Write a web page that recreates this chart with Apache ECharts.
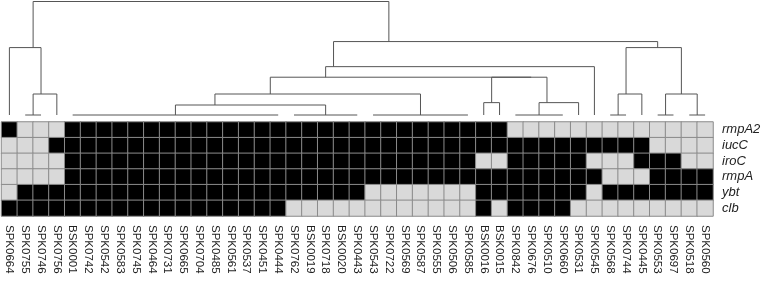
<!DOCTYPE html>
<html>
<head>
<meta charset="utf-8">
<script src="https://cdn.jsdelivr.net/npm/echarts@6/dist/echarts.min.js"></script>
<style>
  html, body { margin: 0; padding: 0; background: #fff; }
  #chart { width: 764px; height: 291px; }
</style>
</head>
<body>
<div id="chart"></div>
<script>
// 样本（列）顺序，与树状图叶子顺序一致
const samples = [
  'SPK0664', 'SPK0755', 'SPK0746', 'SPK0756', 'BSK0001', 'SPK0742', 'SPK0542', 'SPK0583', 'SPK0745',
  'SPK0464', 'SPK0731', 'SPK0665', 'SPK0704', 'SPK0485', 'SPK0561', 'SPK0537', 'SPK0451', 'SPK0444',
  'SPK0762', 'BSK0019', 'SPK0718', 'BSK0020', 'SPK0443', 'SPK0543', 'SPK0722', 'SPK0569', 'SPK0587',
  'SPK0555', 'SPK0506', 'SPK0585', 'BSK0016', 'BSK0015', 'SPK0842', 'SPK0676', 'SPK0510', 'SPK0660',
  'SPK0531', 'SPK0545', 'SPK0568', 'SPK0744', 'SPK0445', 'SPK0553', 'SPK0697', 'SPK0518', 'SPK0560'
];

const genes = ['rmpA2', 'iucC', 'iroC', 'rmpA', 'ybt', 'clb'];

// 1 = 存在(黑), 0 = 缺失(灰)
const rmpA2 = [1,0,0,0,1,1,1,1,1,1,1,1,1,1,1, 1,1,1,1,1,1,1,1,1,1,1,1,1,1,1, 1,1,0,0,0,0,0,0,0,0,0,0,0,0,0];
const iucC  = [0,0,0,1,1,1,1,1,1,1,1,1,1,1,1, 1,1,1,1,1,1,1,1,1,1,1,1,1,1,1, 1,1,1,1,1,1,1,1,1,1,1,0,0,0,0];
const iroC  = [0,0,0,0,1,1,1,1,1,1,1,1,1,1,1, 1,1,1,1,1,1,1,1,1,1,1,1,1,1,1, 0,0,1,1,1,1,1,0,0,0,1,1,1,0,0];
const rmpA  = [0,0,0,0,1,1,1,1,1,1,1,1,1,1,1, 1,1,1,1,1,1,1,1,1,1,1,1,1,1,1, 1,1,1,1,1,1,1,1,0,0,0,1,1,1,1];
const ybt   = [0,1,1,1,1,1,1,1,1,1,1,1,1,1,1, 1,1,1,1,1,1,1,1,0,0,0,0,0,0,0, 1,1,1,1,1,1,1,0,1,1,1,1,1,1,1];
const clb   = [1,1,1,1,1,1,1,1,1,1,1,1,1,1,1, 1,1,1,0,0,0,0,0,0,0,0,0,0,0,0, 1,0,1,1,1,1,0,0,0,0,0,0,0,0,0];

// 聚类合并：[左子起始叶, 左子结束叶, 右子结束叶, 合并高度]（叶子编号从1开始）
const merges = [
  [1, 4, 45, 1.0],
  [1, 1, 4, 0.594],
  [2, 3, 4, 0.185],
  [5, 38, 45, 0.647],
  [5, 37, 38, 0.426],
  [5, 30, 37, 0.333],
  [31, 32, 37, 0.333],
  [5, 23, 30, 0.185],
  [5, 18, 23, 0.088],
  [31, 31, 32, 0.109],
  [33, 36, 37, 0.109],
  [39, 41, 45, 0.594],
  [39, 40, 41, 0.185],
  [42, 43, 45, 0.185]
];

//热图数据
const rows = [rmpA2, iucC, iroC, rmpA, ybt, clb];
const heatData = [];
rows.forEach((arr, gi) => {
  arr.forEach((v, si) => heatData.push([si, gi, v]));
});

//树状图线段
const nodeHeight = {};
merges.forEach(m => { nodeHeight[m[0] + '-' + m[2]] = m[3]; });
function childHeight(a, b) {
  const h = nodeHeight[a + '-' + b];
  return h === undefined ? 0 : h;
}
const segs = [];
const flatSeen = {};
function addFlat(a, b) {
  if (b > a && nodeHeight[a + '-' + b] === undefined && !flatSeen[a + '-' + b]) {
    flatSeen[a + '-' + b] = true;
    segs.push([a, 0, a, 0, b, 0, b, 0]);
  }
}
merges.forEach(([s, m, e, h]) => {
  const xl = (s + m) / 2, xr = (m + 1 + e) / 2;
  segs.push([xl, childHeight(s, m), xl, h, xr, h, xr, childHeight(m + 1, e)]);
  addFlat(s, m);
  addFlat(m + 1, e);
});

const chart = echarts.init(document.getElementById('chart'));
chart.setOption({
  animation: false,
  grid: [
    { left: 1.5, width: 711.5, top: 1.5, height: 113.5 },
    { left: 1.5, width: 711.5, top: 122, height: 94 }
  ],
  xAxis: [
    { gridIndex: 0, type: 'value', min: 0.5, max: 45.5, show: false },
    {
      gridIndex: 1,
      type: 'category',
      data: samples,
      position: 'bottom',
      axisLine: { show: false },
      axisTick: { show: false },
      splitLine: { show: false },
      axisLabel: {
        interval: 0,
        rotate: -90,
        margin: 9,
        fontSize: 11.5,
        fontFamily: 'Liberation Sans',
        color: '#222'
      }
    }
  ],
  yAxis: [
    { gridIndex: 0, type: 'value', min: 0, max: 1, show: false },
    {
      gridIndex: 1,
      type: 'category',
      data: genes,
      inverse: true,
      position: 'right',
      axisLine: { show: false },
      axisTick: { show: false },
      splitLine: { show: false },
      axisLabel: {
        interval: 0,
        margin: 9,
        fontSize: 13,
        fontStyle: 'italic',
        fontFamily: 'Liberation Sans',
        color: '#222'
      }
    }
  ],
  visualMap: {
    show: false,
    type: 'piecewise',
    seriesIndex: 1,
    dimension: 2,
    pieces: [
      { value: 0, color: '#d9d9d9' },
      { value: 1, color: '#000000' }
    ]
  },
  series: [
    {
      type: 'custom',
      xAxisIndex: 0,
      yAxisIndex: 0,
      silent: true,
      clip: false,
      data: segs,
      renderItem(params, api) {
        const pts = [];
        for (let i = 0; i < 4; i++) {
          pts.push(api.coord([api.value(2 * i), api.value(2 * i + 1)]));
        }
        return {
          type: 'polyline',
          shape: { points: pts },
          style: { stroke: '#555', lineWidth: 1, fill: null }
        };
      }
    },
    {
      type: 'heatmap',
      xAxisIndex: 1,
      yAxisIndex: 1,
      data: heatData,
      itemStyle: { borderColor: '#8a8a8a', borderWidth: 1 },
      emphasis: { disabled: true }
    }
  ]
});
</script>
</body>
</html>
